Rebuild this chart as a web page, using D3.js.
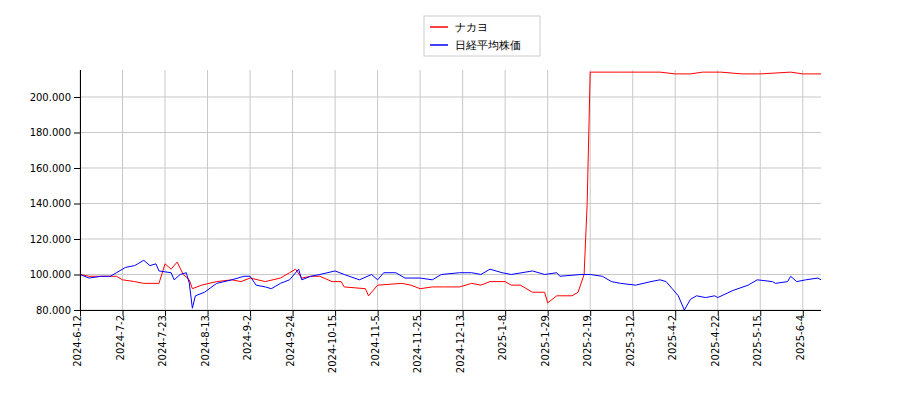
<!DOCTYPE html>
<html><head><meta charset="utf-8">
<script src="https://d3js.org/d3.v7.min.js"></script>
<style>body{margin:0;background:#fff}text{font-family:"DejaVu Sans",sans-serif}</style>
</head><body><svg id="c" width="900" height="400"></svg>
<script>
// tick labels sit every 14 trading days
const tickLabels = ["2024-6-12","2024-7-2","2024-7-23","2024-8-13","2024-9-2","2024-9-24","2024-10-15","2024-11-5","2024-11-25","2024-12-13","2025-1-8","2025-1-29","2025-2-19","2025-3-12","2025-4-2","2025-4-22","2025-5-15","2025-6-4"];
const yTicks = [80, 100, 120, 140, 160, 180, 200];
// [trading day index, value]
const nakayo = [[0,100],[3,99],[7,99],[12,99],[14,97],[18,96],[21,95],[26,95],[28,106],[30,103],[32,107],[34,100],[36,97],[37,92],[40,94],[45,96],[50,97],[53,96],[56,98],[61,96],[66,98],[69,101],[71,103],[73,98],[76,99],[79,99],[83,96],[86,96],[87,93],[94,92],[95,88],[98,94],[106,95],[109,94],[112,92],[116,93],[120,93],[125,93],[129,95],[132,94],[135,96],[140,96],[142,94],[145,94],[149,90],[153,90],[154,84],[157,88],[162,88],[164,90],[166,100],[167,140],[168,214],[178,214],[188,214],[191,214],[196,213],[201,213],[205,214],[211,214],[218,213],[224,213],[234,214],[238,213],[241,213],[244,213]];
const nikkei = [[0,100],[3,98],[7,99],[10,99],[12,101],[15,104],[18,105],[19,106],[21,108],[23,105],[25,106],[26,102],[30,101],[31,97],[33,100],[35,101],[36,95],[37,81],[38,88],[41,90],[45,95],[50,97],[54,99],[56,99],[58,94],[61,93],[63,92],[66,95],[69,97],[72,103],[73,97],[76,99],[79,100],[84,102],[87,100],[92,97],[96,100],[98,97],[100,101],[104,101],[107,98],[112,98],[116,97],[119,100],[125,101],[129,101],[132,100],[135,103],[139,101],[142,100],[149,102],[153,100],[157,101],[158,99],[165,100],[168,100],[172,99],[175,96],[178,95],[183,94],[188,96],[191,97],[193,96],[195,92],[197,88],[199,80],[201,86],[203,88],[206,87],[209,88],[210,87],[215,91],[220,94],[223,97],[228,96],[229,95],[233,96],[234,99],[236,96],[239,97],[243,98],[244,97]];

const svg = d3.select("#c");
const x = d3.scaleLinear().domain([0, 244]).range([80, 821]);
const y = d3.scaleLinear().domain([80, 215.2]).range([310, 70]);

const g = svg.append("g");
// grid
g.selectAll(".gx").data(tickLabels).enter().append("line")
  .attr("x1", (d, i) => x(i * 14)).attr("x2", (d, i) => x(i * 14))
  .attr("y1", 70).attr("y2", 310).attr("stroke", "#c8c8c8");
g.selectAll(".gy").data(yTicks).enter().append("line")
  .attr("x1", 80).attr("x2", 821).attr("y1", d => y(d)).attr("y2", d => y(d)).attr("stroke", "#c8c8c8");

const line = d3.line().x(d => x(d[0])).y(d => y(d[1]));
g.append("path").datum(nakayo).attr("d", line).attr("fill", "none").attr("stroke", "red").attr("stroke-width", 1);
g.append("path").datum(nikkei).attr("d", line).attr("fill", "none").attr("stroke", "blue").attr("stroke-width", 1);

// axes: left and bottom only
const xa = svg.append("g").attr("transform", "translate(0,310)")
  .call(d3.axisBottom(x).tickValues(tickLabels.map((d, i) => i * 14)).tickFormat((d, i) => tickLabels[i]).tickSizeOuter(0));
xa.selectAll("text").attr("transform", "rotate(-90)").attr("text-anchor", "end")
  .attr("x", -5).attr("y", -3).attr("dy", "0.35em").attr("font-size", 10).attr("fill", "#000");
xa.select(".domain").attr("d", "M80,0.5H821");
const ya = svg.append("g").attr("transform", "translate(80,0)")
  .call(d3.axisLeft(y).tickValues(yTicks).tickFormat(d => d3.format(".3f")(d)).tickSizeOuter(0));
ya.selectAll("text").attr("font-size", 10).attr("fill", "#000");
ya.select(".domain").attr("d", "M0.5,70V310");

// legend
const lg = svg.append("g");
lg.append("rect").attr("x", 424).attr("y", 16).attr("width", 116).attr("height", 40)
  .attr("fill", "#fff").attr("stroke", "#ccc");
[["ナカヨ", "red"], ["日経平均株価", "blue"]].forEach((d, i) => {
  lg.append("line").attr("x1", 430).attr("x2", 448).attr("y1", 27 + i * 18).attr("y2", 27 + i * 18)
    .attr("stroke", d[1]).attr("stroke-width", 1.5);
  lg.append("text").attr("x", 455).attr("y", 31 + i * 18).attr("font-size", 11).text(d[0]);
});
</script></body></html>
